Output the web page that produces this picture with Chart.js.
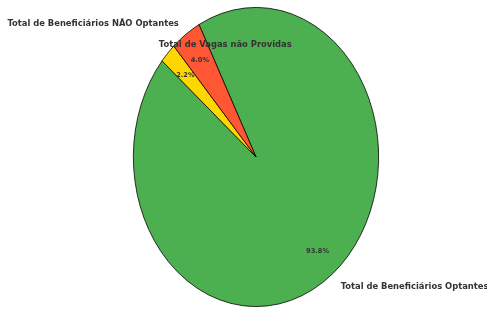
<!DOCTYPE html>
<html>
<head>
<meta charset="utf-8">
<script src="https://cdn.jsdelivr.net/npm/chart.js@4.4.0/dist/chart.umd.min.js"></script>
<style>
    html, body { margin: 0; padding: 0; background: #fff; }
    #wrap { width: 487px; height: 309px; }
</style>
</head>
<body>
<div id="wrap"><canvas id="pie" width="487" height="309"></canvas></div>
<script>
// clockwise order as drawn: green, yellow, red
const categories = ["Total de Beneficiários Optantes", "Total de Vagas não Providas", "Total de Beneficiários NÃO Optantes"];
const values = [93.8, 2.2, 4.0];
const colors = ["#4CAF50", "#FFD700", "#FF5733"];
const labelAlign = ["left", "left", "right"];

const stretchY = 150 / 123;   // pie is drawn as an ellipse in the reference
const font = "DejaVu Sans";

let stretchPlugin = {
    id: "stretch",
    beforeDatasetsDraw(chart) {
        const arc = chart.getDatasetMeta(0).data[0];
        const ctx = chart.ctx;
        ctx.save();
        ctx.translate(arc.x, arc.y);
        ctx.scale(1, stretchY);
        ctx.translate(-arc.x, -arc.y);
    },
    afterDatasetsDraw(chart) {
        chart.ctx.restore();
    }
};

let textPlugin = {
    id: "pieText",
    afterDraw(chart) {
        const ctx = chart.ctx;
        const arcs = chart.getDatasetMeta(0).data;
        ctx.save();
        ctx.textBaseline = "middle";
        arcs.forEach((arc, i) => {
            const mid = (arc.startAngle + arc.endAngle) / 2;
            const r = arc.outerRadius;
            // percentage
            ctx.font = `bold 6.6px "${font}"`;
            ctx.fillStyle = "#333333";
            ctx.textAlign = "center";
            ctx.fillText(values[i].toFixed(1) + "%",
                arc.x + Math.cos(mid) * r * 0.8,
                arc.y + Math.sin(mid) * r * 0.8 * stretchY + 1);
            // category label
            ctx.font = `bold 8.4px "${font}"`;
            ctx.fillStyle = "#333333";
            ctx.textAlign = labelAlign[i];
            ctx.fillText(categories[i],
                arc.x + Math.cos(mid) * r * 1.1,
                arc.y + Math.sin(mid) * r * 1.1 * stretchY + 1.5);
        });
        ctx.restore();
    }
};

new Chart(document.getElementById("pie"), {
    type: "pie",
    data: {
        labels: categories,
        datasets: [{
            data: values,
            backgroundColor: colors,
            borderColor: "#000000",
            borderWidth: 0.7
        }]
    },
    options: {
        responsive: false,
        animation: false,
        rotation: -27.7,
        layout: { padding: { left: 133, right: 108, top: 34, bottom: 29 } },
        plugins: {
            legend: { display: false },
            tooltip: { enabled: false }
        }
    },
    plugins: [stretchPlugin, textPlugin]
});
</script>
</body>
</html>
